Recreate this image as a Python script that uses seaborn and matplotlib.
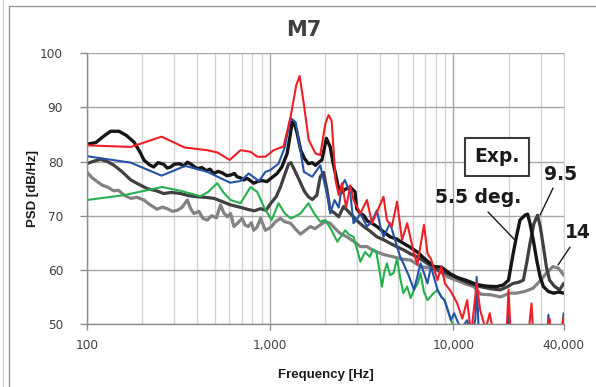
import matplotlib.pyplot as plt
import matplotlib.ticker as mticker
from matplotlib.lines import Line2D
import numpy as np
import pandas as pd
import seaborn as sns

# PSD curves: (frequency [Hz], PSD [dB/Hz])
exp_55 = [(100, 83.2), (112, 83.5), (125, 84.8), (135, 85.6), (150, 85.6), (165, 84.8), (181, 83.6),
          (195, 81.8), (205, 80.3), (220, 79.4), (232, 79.0), (245, 79.8), (263, 79.5), (275, 78.8),
          (287, 79.0), (300, 79.5), (320, 79.6), (340, 79.2), (354, 79.9), (375, 79.4), (400, 78.7),
          (425, 78.9), (450, 78.3), (470, 78.6), (495, 77.8), (520, 78.2), (550, 77.9), (580, 77.4),
          (609, 77.5), (640, 77.8), (660, 77.2), (690, 77.0), (718, 76.6), (750, 76.9), (780, 76.5),
          (815, 76.0), (851, 76.3), (900, 76.5), (962, 76.3), (1020, 77.0), (1093, 77.8), (1160, 79.0),
          (1240, 81.5), (1290, 85.0), (1320, 87.3), (1360, 86.8), (1400, 85.5), (1470, 82.1),
          (1540, 80.6), (1620, 79.6), (1700, 79.8), (1770, 79.3), (1850, 79.9), (1920, 80.3),
          (2030, 84.3), (2130, 82.7), (2200, 80.0), (2275, 77.8), (2350, 75.5), (2420, 74.1),
          (2550, 74.8), (2740, 75.3), (2910, 74.4), (2970, 71.3), (3100, 70.5), (3250, 70.0),
          (3400, 69.0), (3600, 68.6), (3830, 68.0), (4100, 67.2), (4520, 66.1), (4900, 65.7),
          (5340, 64.9), (5800, 64.2), (6360, 63.3), (7000, 62.0), (7860, 60.6), (8600, 60.5),
          (9700, 59.2), (10500, 58.6), (11900, 58.0), (13400, 57.3), (15000, 57.0), (17200, 56.9),
          (18700, 57.2), (20000, 58.1), (21200, 63.0), (22200, 66.5), (23100, 69.2), (24600, 70.1),
          (25400, 70.3), (26200, 68.6), (27300, 65.5), (28500, 61.8), (29700, 58.8), (31000, 56.9),
          (33000, 56.0), (35200, 55.7), (37500, 55.9), (40000, 55.7)]

exp_95 = [(100, 79.6), (110, 80.1), (119, 80.4), (130, 80.0), (141, 79.3), (155, 78.2), (174, 76.6),
          (190, 75.9), (214, 75.0), (240, 74.6), (263, 74.1), (290, 74.3), (325, 74.1), (360, 73.7),
          (400, 73.5), (445, 73.4), (495, 73.2), (550, 72.6), (609, 72.0), (680, 71.6), (750, 71.2),
          (820, 70.9), (888, 71.3), (950, 71.0), (1010, 72.3), (1080, 73.5), (1140, 75.3), (1200, 77.5),
          (1265, 79.6), (1300, 79.8), (1380, 78.0), (1470, 76.0), (1540, 74.5), (1620, 73.5),
          (1700, 73.0), (1800, 73.8), (1880, 77.2), (1960, 78.0), (2040, 75.0), (2130, 71.0),
          (2250, 70.5), (2370, 69.8), (2520, 71.7), (2740, 70.4), (3000, 69.0), (3240, 68.0),
          (3500, 67.2), (3830, 66.1), (4200, 65.5), (4520, 64.9), (4900, 64.3), (5340, 63.7),
          (5800, 63.0), (6360, 62.4), (7200, 61.2), (8200, 60.0), (9320, 59.3), (10500, 58.5),
          (12000, 57.6), (14000, 56.9), (16000, 56.5), (18000, 56.3), (19500, 56.8), (21200, 57.5),
          (22700, 57.7), (24100, 58.1), (25200, 61.5), (26200, 64.9), (27500, 68.5), (28800, 70.1),
          (29800, 68.0), (31000, 64.3), (32200, 60.5), (33500, 58.1), (35500, 57.0), (38000, 56.3),
          (40000, 57.5)]

exp_14 = [(100, 78.1), (107, 77.0), (114, 76.3), (122, 75.6), (130, 75.3), (140, 74.6), (149, 74.7),
          (160, 73.8), (174, 73.2), (188, 73.4), (205, 72.9), (222, 72.0), (242, 71.2), (258, 71.6),
          (275, 71.3), (293, 70.8), (312, 71.0), (330, 71.5), (354, 72.9), (368, 71.4), (384, 70.4),
          (410, 70.8), (430, 69.5), (455, 69.2), (480, 70.0), (510, 69.6), (537, 72.0), (560, 70.5),
          (585, 69.8), (610, 70.4), (635, 68.0), (665, 68.6), (704, 69.5), (730, 68.3), (760, 68.0),
          (790, 68.7), (815, 67.3), (850, 67.9), (888, 69.5), (915, 68.4), (944, 67.3), (980, 67.6),
          (1020, 68.0), (1070, 68.9), (1140, 69.5), (1200, 68.9), (1294, 68.6), (1380, 67.5),
          (1466, 66.6), (1560, 67.3), (1660, 68.0), (1760, 67.6), (1880, 68.3), (2000, 68.9),
          (2130, 68.6), (2270, 67.6), (2420, 66.7), (2630, 66.1), (2850, 65.3), (3110, 64.3),
          (3380, 64.3), (3600, 63.7), (3830, 63.3), (4200, 62.8), (4720, 62.4), (5200, 62.0),
          (5850, 61.8), (6630, 60.6), (7550, 60.3), (8300, 59.8), (9320, 58.7), (10500, 58.0),
          (11500, 57.5), (12900, 56.9), (14100, 55.5), (16000, 55.4), (18100, 55.0), (20300, 55.7),
          (22100, 55.7), (24500, 56.0), (27200, 56.6), (30000, 58.1), (32000, 59.3), (33500, 60.0),
          (35000, 60.6), (37500, 60.3), (40000, 59.0)]

sim_green = [(100, 72.9), (160, 73.8), (258, 75.3), (325, 74.6), (418, 73.6), (460, 74.4), (515, 76.0),
             (560, 74.2), (609, 72.9), (690, 72.3), (783, 75.3), (851, 74.4), (930, 71.5), (1020, 69.2),
             (1112, 72.3), (1200, 70.5), (1294, 69.5), (1380, 69.9), (1466, 70.4), (1620, 72.3),
             (1750, 70.3), (1880, 68.9), (2003, 69.2), (2150, 67.5), (2330, 65.2), (2570, 67.3),
             (2700, 66.5), (2855, 66.1), (3000, 63.5), (3110, 61.5), (3300, 63.3), (3500, 62.4),
             (3650, 63.8), (3800, 63.3), (3950, 60.0), (4080, 56.9), (4200, 59.5), (4340, 61.2),
             (4520, 59.0), (4720, 59.4), (4930, 62.1), (5130, 58.5), (5340, 55.7), (5600, 56.9),
             (5850, 54.8), (6100, 56.3), (6400, 57.5), (6630, 59.4), (6900, 56.0), (7230, 54.4),
             (7700, 55.5), (8200, 56.3), (8600, 55.0), (8950, 54.4), (9300, 52.8), (9700, 50.7),
             (10200, 49.0), (11000, 46.5)]

sim_blue = [(100, 81.0), (174, 79.8), (256, 77.4), (345, 79.2), (455, 78.1), (605, 76.1), (690, 76.4),
            (765, 77.8), (870, 76.4), (944, 78.1), (1000, 78.4), (1112, 79.6), (1200, 82.5), (1294, 88.0),
            (1380, 87.3), (1450, 83.0), (1530, 78.1), (1700, 77.2), (1880, 79.3), (2003, 75.3),
            (2086, 72.9), (2130, 70.4), (2250, 72.9), (2370, 71.5), (2470, 75.6), (2560, 76.6),
            (2740, 74.1), (2855, 68.6), (3000, 69.5), (3110, 70.4), (3380, 68.0), (3600, 69.0),
            (3830, 71.0), (4000, 68.0), (4160, 66.1), (4520, 68.6), (4930, 64.3), (5130, 62.4),
            (5340, 61.2), (5700, 59.0), (6100, 56.3), (6630, 61.2), (7230, 57.5), (7550, 60.6),
            (8200, 56.3), (8600, 55.0), (8950, 54.4), (9700, 50.7), (10100, 52.0), (11000, 49.0),
            (11900, 50.7), (12600, 47.5), (13200, 51.0), (13400, 58.7), (13700, 50.0), (14500, 47.0),
            (17000, 46.0), (19500, 46.5), (20000, 53.8), (20500, 46.0), (25000, 45.5), (30000, 46.0),
            (32500, 46.5), (33000, 51.7), (33700, 46.0), (38500, 46.5), (40000, 52.0)]

sim_red = [(100, 83.0), (174, 82.7), (256, 84.6), (342, 82.6), (455, 82.1), (515, 81.7), (603, 80.3),
           (690, 82.1), (783, 81.8), (851, 80.9), (944, 80.9), (1047, 82.1), (1185, 82.8), (1294, 88.2),
           (1390, 94.1), (1450, 95.8), (1528, 90.7), (1625, 84.0), (1770, 81.5), (1880, 81.2),
           (2003, 87.0), (2086, 88.6), (2170, 87.5), (2275, 76.6), (2370, 73.8), (2470, 76.0),
           (2600, 71.5), (2740, 75.6), (2855, 72.9), (3110, 70.4), (3380, 72.9), (3600, 68.6),
           (3800, 70.4), (4160, 73.5), (4340, 69.2), (4620, 68.0), (4930, 72.6), (5250, 65.5),
           (5600, 68.6), (6100, 63.0), (6360, 61.0), (6920, 68.3), (7230, 63.0), (7550, 62.0),
           (8200, 58.1), (8600, 60.6), (9000, 57.5), (9700, 56.0), (10500, 53.8), (11200, 51.0),
           (11900, 54.4), (12500, 48.0), (13400, 57.5), (14000, 52.6), (15000, 49.0), (15800, 52.0),
           (17000, 46.0), (18500, 47.0), (19500, 48.0), (20000, 56.3), (20600, 47.0), (23000, 45.0),
           (25500, 47.0), (26700, 53.8), (27500, 46.0), (31000, 46.0), (33500, 51.0), (34500, 46.0),
           (38000, 47.0), (40000, 51.4)]

x_ticks = [100, 1000, 10000, 40000]
x_tick_labels = ['100', '1,000', '10,000', '40,000']
y_ticks = [50, 60, 70, 80, 90, 100]

series = [
    (exp_14, '#828282', 2.3),
    (exp_95, '#404040', 2.3),
    (exp_55, '#161616', 2.4),
    (sim_green, '#25b04b', 1.5),
    (sim_blue, '#2452a6', 1.5),
    (sim_red, '#ee1f26', 1.5),
]

sns.set_style('white')
plt.rcParams['font.family'] = ['DejaVu Sans']

fig = plt.figure(figsize=(5.96, 3.87), dpi=100)
ax = fig.add_axes([0.1455, 0.1628, 0.8003, 0.6995])

for pts, col, lw in series:
    df = pd.DataFrame(pts, columns=['freq', 'psd'])
    sns.lineplot(data=df, x='freq', y='psd', ax=ax, color=col, linewidth=lw,
                 sort=False, estimator=None)

ax.set_xscale('log')
ax.set_xlim(100, 40000)
ax.set_ylim(50, 100)
ax.xaxis.set_major_locator(mticker.FixedLocator(x_ticks))
ax.xaxis.set_major_formatter(mticker.FixedFormatter(x_tick_labels))
ax.xaxis.set_minor_locator(mticker.LogLocator(base=10, subs=np.arange(2, 10)))
ax.xaxis.set_minor_formatter(mticker.NullFormatter())
ax.set_yticks(y_ticks)

ax.grid(True, which='major', axis='x', color='#a8a8a8', linewidth=1.0)
ax.grid(True, which='minor', axis='x', color='#d2d2d2', linewidth=1.0)
ax.grid(True, which='major', axis='y', color='#a8a8a8', linewidth=1.0)
ax.get_xgridlines()[-1].set_color('#d2d2d2')
ax.set_axisbelow(True)

ax.tick_params(axis='x', which='major', direction='out', length=4, width=1, color='#8c8c8c',
               pad=7, labelsize=8.7, labelcolor='#404040', bottom=True)
ax.tick_params(axis='x', which='minor', length=0)
ax.tick_params(axis='y', direction='out', length=5, width=1, color='#8c8c8c',
               pad=12, labelsize=8.7, labelcolor='#404040', left=True)

for side in ['left', 'bottom']:
    ax.spines[side].set_color('#8c8c8c')
    ax.spines[side].set_linewidth(1.0)
ax.spines['top'].set_visible(False)
ax.spines['right'].set_color('#d2d2d2')

ax.set_xlabel('')
ax.set_ylabel('')
fig.text(0.5475, 0.031, 'Frequency [Hz]', ha='center', va='center', fontsize=9.5,
         fontweight='bold', family='Liberation Sans', color='#1a1a1a')
fig.text(0.055, 0.512, 'PSD [dB/Hz]', ha='center', va='center', rotation=90, fontsize=9.5,
         fontweight='bold', family='Liberation Sans', color='#1a1a1a')
fig.text(0.51, 0.922, 'M7', ha='center', va='center', fontsize=15, fontweight='bold',
         color='#404040')

# labels for the experimental curves
lab = dict(fontsize=13.5, fontweight='bold', color='#1a1a1a', ha='center', va='center')
ax.text(17300, 80.85, 'Exp.', bbox=dict(boxstyle='square,pad=0.5', fc='white', ec='#3a3a3a', lw=1.5),
        **lab)
ax.text(13640, 73.3, '5.5 deg.', **lab)
ax.text(38460, 77.7, '9.5', clip_on=False, **lab)
ax.text(47600, 66.9, '14', clip_on=False, **lab)
leader = dict(arrowstyle='-', color='#1a1a1a', lw=1.0, shrinkA=0, shrinkB=0)
ax.annotate('', xy=(21700, 65.5), xytext=(15450, 70.7), arrowprops=leader)
ax.annotate('', xy=(29720, 70.1), xytext=(34990, 75.1), arrowprops=leader)
ax.annotate('', xy=(37260, 60.9), xytext=(43300, 64.2), arrowprops=leader, annotation_clip=False)

# chart-area frame
W, H = 596.0, 387.0
fig.add_artist(Line2D([3 / W, 3 / W], [0, 1], color='#cfcfcf', lw=1.0, transform=fig.transFigure))
fig.add_artist(Line2D([9 / W, 9 / W], [0, 1 - 6 / H], color='#9a9a9a', lw=1.0, transform=fig.transFigure))
fig.add_artist(Line2D([9 / W, 1], [1 - 6 / H, 1 - 6 / H], color='#9a9a9a', lw=1.0, transform=fig.transFigure))

fig.savefig('out.png', dpi=100)
